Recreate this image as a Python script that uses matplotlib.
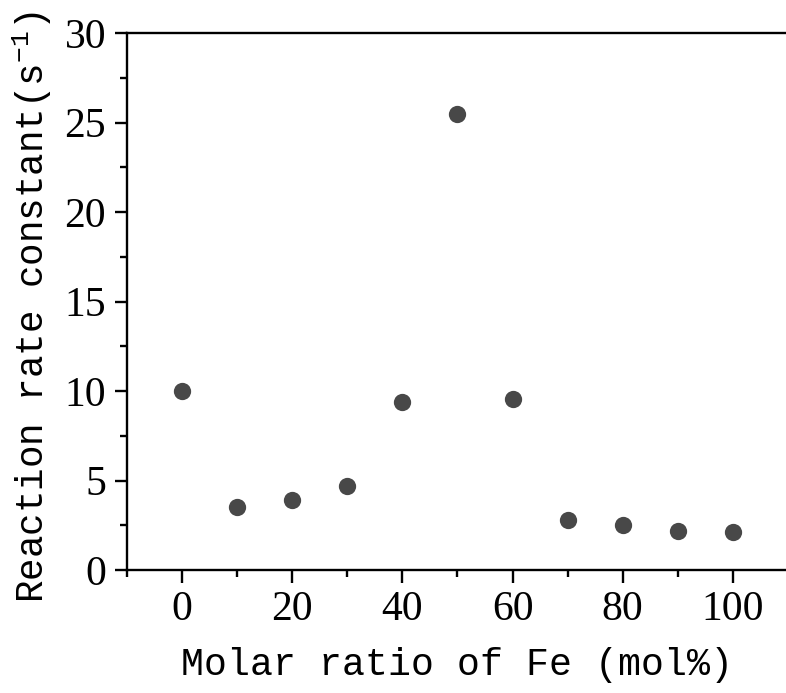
import matplotlib
matplotlib.use("Agg")
import matplotlib.pyplot as plt
from matplotlib.ticker import MultipleLocator

# molar ratio of Fe (mol%) and reaction rate constant (s^-1)
fe_ratio = [0, 10, 20, 30, 40, 50, 60, 70, 80, 90, 100]
rate_const = [10.0, 3.5, 3.9, 4.7, 9.4, 25.5, 9.55, 2.8, 2.5, 2.2, 2.1]

plt.rcParams['mathtext.fontset'] = 'custom'
plt.rcParams['mathtext.rm'] = 'Liberation Mono'
plt.rcParams['mathtext.default'] = 'regular'

fig = plt.figure(figsize=(7.86, 6.93), dpi=100)
ax = fig.add_axes([0.1616, 0.1775, 0.8409, 0.7745])

ax.scatter(fe_ratio, rate_const, s=155, color='#484848', zorder=3, linewidths=0)

ax.set_xlim(-10, 110)
ax.set_ylim(0, 30)
ax.xaxis.set_major_locator(MultipleLocator(20))
ax.xaxis.set_minor_locator(MultipleLocator(10))
ax.yaxis.set_major_locator(MultipleLocator(5))
ax.yaxis.set_minor_locator(MultipleLocator(2.5))

for sp in ax.spines.values():
    sp.set_linewidth(1.7)
ax.spines['right'].set_visible(False)
ax.tick_params(which='major', direction='out', length=9, width=1.7)
ax.tick_params(which='minor', direction='out', length=5, width=1.7)
ax.tick_params(labelsize=30, pad=6)
for lab in ax.get_xticklabels() + ax.get_yticklabels():
    lab.set_fontfamily('Liberation Serif')

ax.set_xlabel('Molar ratio of Fe (mol%)', fontsize=27.5, family='Liberation Mono', labelpad=13)
ax.set_ylabel('Reaction rate constant(s$^{-1}$)', fontsize=27, family='Liberation Mono')
ax.yaxis.set_label_coords(-0.11, 0.49)

fig.savefig('out.png', dpi=100)
